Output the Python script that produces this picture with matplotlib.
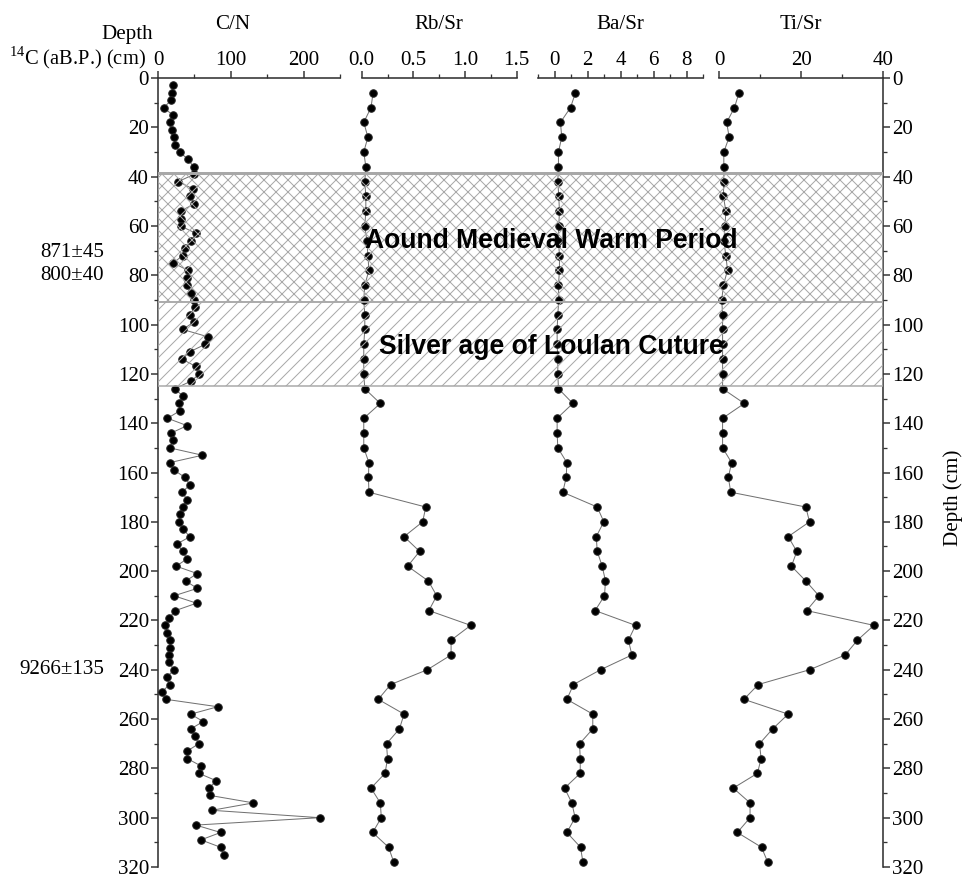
import numpy as np
import matplotlib
matplotlib.use("Agg")
import matplotlib.pyplot as plt
from matplotlib.patches import Rectangle
from matplotlib.ticker import MultipleLocator, FixedLocator
from matplotlib.transforms import blended_transform_factory

# C/N sampled every 3 cm, element ratios every 6 cm
cn_depth = np.arange(3, 316, 3)
cn = [20, 19, 18, 8, 20, 16, 19, 22, 23, 30,
      41, 49, 50, 28, 48, 44, 50, 31, 32, 31,
      52, 46, 37, 34, 21, 41, 40, 40, 45, 49,
      51, 44, 49, 34, 69, 65, 44, 33, 52, 57,
      45, 23, 34, 29, 30, 13, 40, 18, 21, 16,
      61, 16, 22, 37, 44, 33, 40, 34, 30, 29,
      34, 44, 26, 34, 40, 25, 54, 38, 54, 22,
      53, 24, 15, 10, 13, 17, 16, 15, 15, 22,
      12, 16, 5, 11, 82, 45, 62, 45, 51, 56,
      40, 40, 59, 56, 80, 70, 72, 131, 74, 222,
      52, 86, 59, 86, 91]

el_depth = np.arange(6, 319, 6)
rbsr = [0.11, 0.09, 0.02, 0.06, 0.02, 0.04, 0.03, 0.04, 0.04, 0.03,
        0.05, 0.06, 0.07, 0.03, 0.02, 0.03, 0.03, 0.02, 0.02, 0.02,
        0.03, 0.18, 0.02, 0.02, 0.02, 0.07, 0.065, 0.07, 0.62, 0.59,
        0.41, 0.56, 0.445, 0.645, 0.726, 0.65, 1.055, 0.865, 0.865, 0.635,
        0.28, 0.16, 0.41, 0.365, 0.24, 0.25, 0.226, 0.09, 0.18, 0.19,
        0.106, 0.26, 0.31]
basr = [1.27, 0.97, 0.36, 0.44, 0.24, 0.24, 0.2, 0.26, 0.3, 0.26,
        0.24, 0.3, 0.3, 0.24, 0.26, 0.2, 0.16, 0.16, 0.2, 0.2,
        0.24, 1.11, 0.16, 0.16, 0.2, 0.75, 0.71, 0.5, 2.59, 2.99,
        2.53, 2.59, 2.89, 3.09, 3.03, 2.46, 4.91, 4.48, 4.69, 2.79,
        1.15, 0.75, 2.32, 2.32, 1.52, 1.56, 1.56, 0.61, 1.05, 1.25,
        0.75, 1.58, 1.72]
tisr = [4.8, 3.7, 1.8, 2.4, 1.1, 1.1, 1.1, 1.0, 1.6, 1.4,
        1.1, 1.6, 2.0, 1.0, 0.6, 0.8, 0.8, 0.8, 0.8, 0.8,
        0.8, 6.1, 0.8, 0.8, 0.8, 3.0, 2.2, 2.8, 21.1, 22.0,
        16.8, 18.9, 17.6, 21.1, 24.3, 21.3, 37.7, 33.7, 30.7, 22.0,
        9.5, 6.0, 16.8, 13.0, 9.8, 10.2, 9.3, 3.4, 7.5, 7.5,
        4.4, 10.3, 11.8]

names = ["C/N", "Rb/Sr", "Ba/Sr", "Ti/Sr"]
dates = ["871\u00b145", "800\u00b140", "9266\u00b1135"]
date_depth = [70.7, 80.3, 240]
periods = ["Aound Medieval Warm Period", "Silver age of Loulan Cuture"]
period_top = [38.5, 91]
period_bot = [91, 125]
period_text_depth = [66, 109]

plt.rcParams["font.family"] = ["Liberation Serif", "DejaVu Serif"]
plt.rcParams["mathtext.fontset"] = "custom"
plt.rcParams["mathtext.rm"] = "Liberation Serif"
plt.rcParams["hatch.linewidth"] = 1.0

W, H = 963, 879
fig = plt.figure(figsize=(W / 72, H / 72), dpi=72)

y0, y1 = 78, 867   # pixel rows of depth 0 and 320
def rect(x0, x1):
    return [x0 / W, (H - y1) / H, (x1 - x0) / W, (y1 - y0) / H]

spans = [(158, 340), (361.7, 516.7), (538, 703), (719.3, 883.3)]
xlims = [(0, 250), (0, 1.5), (-1, 9), (0, 40)]
majors = [[0, 100, 200], [0, 0.5, 1.0, 1.5], [0, 2, 4, 6, 8], [0, 20, 40]]
minors = [[50, 150, 250], [0.25, 0.75, 1.25], [-1, 1, 3, 5, 7, 9], [10, 30]]
labels = [["0", "100", "200"], ["0.0", "0.5", "1.0", "1.5"],
          ["0", "2", "4", "6", "8"], ["0", "20", "40"]]
title_x = [0.41, 0.5, 0.5, 0.5]
series = [(cn, cn_depth), (rbsr, el_depth), (basr, el_depth), (tisr, el_depth)]

axes = []
for i in range(4):
    ax = fig.add_axes(rect(*spans[i]))
    ax.patch.set_visible(False)
    vals, dep = series[i]
    ax.plot(vals, dep, color="#707070", lw=1.0, zorder=2, clip_on=False)
    ax.plot(vals, dep, "o", color="black", ms=7.5, mec="#222222", zorder=3, clip_on=False)
    ax.set_xlim(*xlims[i])
    ax.set_ylim(320, 0)
    for s in ["bottom", "left", "right"]:
        ax.spines[s].set_visible(False)
    ax.spines["top"].set_linewidth(1.6)
    ax.spines["top"].set_color("#333333")
    ax.xaxis.tick_top()
    ax.xaxis.set_major_locator(FixedLocator(majors[i]))
    ax.xaxis.set_minor_locator(FixedLocator(minors[i]))
    ax.set_xticklabels(labels[i])
    ax.tick_params(axis="x", which="major", direction="out", length=7, width=1.5,
                   color="#333333", pad=1, labelsize=21)
    ax.tick_params(axis="x", which="minor", direction="out", length=4, width=1.3,
                   color="#333333")
    ax.tick_params(axis="y", which="both", left=False, right=False,
                   labelleft=False, labelright=False)
    ax.text(title_x[i], 1 + 53 / (y1 - y0), names[i], transform=ax.transAxes,
            ha="center", va="center", fontsize=21)
    axes.append(ax)

for ax, side in [(axes[0], "left"), (axes[3], "right")]:
    ax.spines[side].set_visible(True)
    ax.spines[side].set_linewidth(1.6)
    ax.spines[side].set_color("#333333")
    ax.yaxis.set_major_locator(MultipleLocator(20))
    ax.yaxis.set_minor_locator(MultipleLocator(10))
    if side == "left":
        ax.yaxis.tick_left()
    else:
        ax.yaxis.tick_right()
    ax.tick_params(axis="y", which="major", direction="out", length=7, width=1.5,
                   color="#333333", pad=2, labelsize=21,
                   left=(side == "left"), right=(side == "right"),
                   labelleft=(side == "left"), labelright=(side == "right"))
    ax.tick_params(axis="y", which="minor", direction="out", length=4, width=1.3,
                   color="#333333", left=(side == "left"), right=(side == "right"))

# shaded periods across all panels, drawn over the data
bg = fig.add_axes(rect(158, 883.3))
bg.set_zorder(5)
bg.patch.set_visible(False)
bg.set_xlim(0, 1)
bg.set_ylim(320, 0)
bg.axis("off")
for top, bot, hatch in zip(period_top, period_bot, ["xx", "//"]):
    bg.add_patch(Rectangle((0, top), 1, bot - top, facecolor="none",
                           edgecolor="#a8a8a8", hatch=hatch, lw=1.5))
bg.axhline(period_top[0], color="#a8a8a8", lw=3)
for txt, d in zip(periods, period_text_depth):
    bg.text(0.5425, d, txt, ha="center", va="center", fontsize=26.5,
            fontweight="bold", family=["Liberation Sans", "DejaVu Sans"], zorder=10)

# left-hand labels
fig.text(153 / W, 1 - 34 / H, "Depth", ha="right", va="center", fontsize=21)
fig.text(146 / W, 1 - 58 / H, "$^{14}$C (aB.P.) (cm)", ha="right", va="center",
         fontsize=20.5)
tr = blended_transform_factory(fig.transFigure, axes[0].transData)
for txt, d in zip(dates, date_depth):
    fig.text(104 / W, d, txt, ha="right", va="center", fontsize=21, transform=tr)

fig.text(953 / W, 1 - 498 / H, "Depth (cm)", rotation=90, ha="center",
         va="center", fontsize=21)

fig.savefig("out.png", dpi=72)
